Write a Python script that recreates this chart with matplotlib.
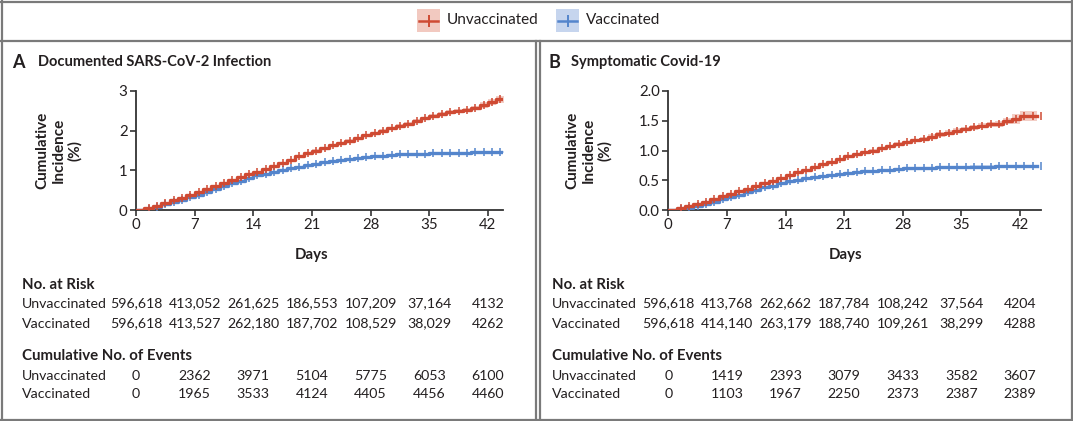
import matplotlib
matplotlib.use("Agg")
import matplotlib.pyplot as plt
from matplotlib.patches import Rectangle
from matplotlib.lines import Line2D
import matplotlib.transforms as mtransforms

plt.rcParams['font.family'] = ['Lato', 'DejaVu Sans']

# ---------------- data ----------------
days = list(range(45))
xticks = [0, 7, 14, 21, 28, 35, 42]

a_unvacc = [0.00, 0.05, 0.11, 0.17, 0.24, 0.31, 0.38, 0.45, 0.53, 0.60, 0.67, 0.75, 0.82, 0.90,
            0.97, 1.04, 1.12, 1.19, 1.27, 1.35, 1.43, 1.50, 1.57, 1.63, 1.69, 1.75, 1.82, 1.88,
            1.94, 2.00, 2.06, 2.12, 2.18, 2.25, 2.31, 2.37, 2.42, 2.46, 2.50, 2.53, 2.57, 2.64,
            2.72, 2.79, 2.80]
a_vacc = [0.00, 0.03, 0.08, 0.14, 0.20, 0.26, 0.32, 0.38, 0.46, 0.53, 0.60, 0.67, 0.74, 0.81,
          0.87, 0.92, 0.97, 1.01, 1.05, 1.09, 1.13, 1.17, 1.20, 1.23, 1.26, 1.29, 1.31, 1.33,
          1.35, 1.37, 1.39, 1.40, 1.41, 1.42, 1.42, 1.43, 1.43, 1.43, 1.44, 1.44, 1.45, 1.45,
          1.45, 1.45, 1.45]
b_unvacc = [0.00, 0.03, 0.06, 0.10, 0.14, 0.18, 0.23, 0.27, 0.32, 0.36, 0.40, 0.45, 0.49, 0.54,
            0.59, 0.64, 0.68, 0.73, 0.77, 0.81, 0.86, 0.90, 0.94, 0.97, 1.00, 1.04, 1.07, 1.11,
            1.14, 1.17, 1.20, 1.23, 1.27, 1.30, 1.33, 1.36, 1.39, 1.42, 1.44, 1.45, 1.49, 1.53,
            1.58, 1.58, 1.58]
b_vacc = [0.00, 0.01, 0.03, 0.06, 0.10, 0.14, 0.18, 0.22, 0.26, 0.30, 0.34, 0.38, 0.41, 0.45,
          0.48, 0.51, 0.53, 0.55, 0.57, 0.59, 0.61, 0.62, 0.64, 0.65, 0.66, 0.67, 0.68, 0.69,
          0.70, 0.71, 0.71, 0.71, 0.72, 0.72, 0.72, 0.72, 0.73, 0.73, 0.73, 0.74, 0.74, 0.74,
          0.74, 0.74, 0.74]

# confidence-band half widths (percentage points)
a_unvacc_hw = [0.0]*1 + [0.02]*20 + [0.03]*10 + [0.04]*6 + [0.05]*4 + [0.08]*4
a_vacc_hw = [0.0]*1 + [0.015]*20 + [0.02]*10 + [0.025]*14
b_unvacc_hw = [0.0]*1 + [0.015]*20 + [0.025]*10 + [0.04]*8 + [0.05]*2 + [0.09]*4
b_vacc_hw = [0.0]*1 + [0.012]*20 + [0.015]*10 + [0.02]*14

a_risk_unvacc = ["596,618", "413,052", "261,625", "186,553", "107,209", "37,164", "4132"]
a_risk_vacc = ["596,618", "413,527", "262,180", "187,702", "108,529", "38,029", "4262"]
a_ev_unvacc = ["0", "2362", "3971", "5104", "5775", "6053", "6100"]
a_ev_vacc = ["0", "1965", "3533", "4124", "4405", "4456", "4460"]

b_risk_unvacc = ["596,618", "413,768", "262,662", "187,784", "108,242", "37,564", "4204"]
b_risk_vacc = ["596,618", "414,140", "263,179", "188,740", "109,261", "38,299", "4288"]
b_ev_unvacc = ["0", "1419", "2393", "3079", "3433", "3582", "3607"]
b_ev_vacc = ["0", "1103", "1967", "2250", "2373", "2387", "2389"]

RED = '#cf4a33'
BLUE = '#5485cc'
RED_BAND = '#f2c9c0'
BLUE_BAND = '#c6d5ee'
BORDER = '#7a7a7a'
TXT = '#231f20'

W, H = 1073, 421
fig = plt.figure(figsize=(W/100, H/100), dpi=100)

def fx(x):
    return x / W

def fy(y):
    return 1 - y / H

# ---------------- borders ----------------
def hline(x0, x1, y):
    fig.add_artist(Line2D([fx(x0), fx(x1)], [fy(y), fy(y)], color=BORDER, lw=1.6))

def vline(x, y0, y1):
    fig.add_artist(Line2D([fx(x), fx(x)], [fy(y0), fy(y1)], color=BORDER, lw=1.6))

hline(1, 1072, 1.5)
vline(1.5, 1, 420)
vline(1071.5, 1, 420)
hline(1, 1072, 41)
hline(1, 1072, 419.5)
vline(535.5, 41, 420)
vline(539.5, 41, 420)

# ---------------- legend ----------------
def legend_item(x, label, lc, fc):
    fig.add_artist(Rectangle((fx(x), fy(32)), fx(23), 23/H, facecolor=fc, edgecolor='none'))
    fig.add_artist(Line2D([fx(x+2), fx(x+21)], [fy(20.5), fy(20.5)], color=lc, lw=1.8))
    fig.add_artist(Line2D([fx(x+11.5)], [fy(20.5)], color=lc, marker='|', markersize=9,
                          markeredgewidth=1.4, linestyle='none'))
    fig.text(fx(x+30), fy(20), label, fontsize=11, color=TXT, va='center', ha='left')

legend_item(417, "Unvaccinated", RED, RED_BAND)
legend_item(556, "Vaccinated", BLUE, BLUE_BAND)

# ---------------- panels ----------------
def panel(left_px, right_px, xmax, ymax, yticks, yfmt, letter, title, letter_x, title_x,
          ylab_x, days_x, table_x, unv, vac, unv_hw, vac_hw, ru, rv, eu, ev):
    bottom_px, top_px = 210, 91
    ax = fig.add_axes([fx(left_px), fy(bottom_px), (right_px-left_px)/W, (bottom_px-top_px)/H])
    lo_u = [v - h for v, h in zip(unv, unv_hw)]
    hi_u = [v + h for v, h in zip(unv, unv_hw)]
    lo_v = [v - h for v, h in zip(vac, vac_hw)]
    hi_v = [v + h for v, h in zip(vac, vac_hw)]
    ax.fill_between(days, lo_u, hi_u, step='post', color=RED_BAND, lw=0, alpha=0.9)
    ax.fill_between(days, lo_v, hi_v, step='post', color=BLUE_BAND, lw=0, alpha=0.9)
    ax.step(days, vac, where='post', color=BLUE, lw=2.4, zorder=3)
    ax.step(days, unv, where='post', color=RED, lw=2.4, zorder=4)
    mx = [d + 0.5 for d in days[1:]]
    ax.plot(mx, vac[1:], linestyle='none', marker='|', color=BLUE, markersize=6,
            markeredgewidth=1.1, zorder=3)
    ax.plot(mx, unv[1:], linestyle='none', marker='|', color=RED, markersize=6,
            markeredgewidth=1.1, zorder=4)
    ax.set_xlim(0, xmax)
    ax.set_ylim(0, ymax)
    ax.set_xticks(xticks)
    ax.set_yticks(yticks)
    ax.set_yticklabels([yfmt.format(t) for t in yticks])
    for s in ['top', 'right']:
        ax.spines[s].set_visible(False)
    for s in ['left', 'bottom']:
        ax.spines[s].set_linewidth(1.3)
        ax.spines[s].set_color('#333333')
    ax.tick_params(direction='out', length=4, width=1.2, color='#333333',
                   labelsize=10.8, labelcolor=TXT, pad=2)
    ax.patch.set_alpha(0)

    fig.text(fx(letter_x), fy(62), letter, fontsize=13, fontweight='bold', color=TXT,
             va='center', ha='left')
    fig.text(fx(title_x), fy(62), title, fontsize=10.5, fontweight='bold', color=TXT,
             va='center', ha='left')
    fig.text(fx(ylab_x), fy(150), "Cumulative\nIncidence\n(%)", fontsize=11,
             fontweight='bold', color=TXT, rotation=90, va='center', ha='center',
             multialignment='center', linespacing=1.2)
    fig.text(fx(days_x), fy(255), "Days", fontsize=10.8, fontweight='bold', color=TXT,
             va='center', ha='center')

    # table
    fig.text(fx(table_x), fy(285), "No. at Risk", fontsize=10.8, fontweight='bold',
             color=TXT, va='center', ha='left')
    fig.text(fx(table_x), fy(356), "Cumulative No. of Events", fontsize=10.8,
             fontweight='bold', color=TXT, va='center', ha='left')
    rows = [("Unvaccinated", ru, 303.5), ("Vaccinated", rv, 323.5),
            ("Unvaccinated", eu, 375.5), ("Vaccinated", ev, 394.5)]
    trans = mtransforms.blended_transform_factory(ax.transData, fig.transFigure)
    for label, vals, y in rows:
        fig.text(fx(table_x), fy(y), label, fontsize=10.2, color=TXT, va='center', ha='left')
        for d, v in zip(xticks, vals):
            ax.text(d, fy(y), v, transform=trans, fontsize=10.2, color=TXT,
                    va='center', ha='center', clip_on=False)
    return ax

panel(136, 503, 43.8, 3, [0, 1, 2, 3], "{:.0f}", "A", "Documented SARS-CoV-2 Infection",
      12, 38, 59, 312, 22, a_unvacc, a_vacc, a_unvacc_hw, a_vacc_hw,
      a_risk_unvacc, a_risk_vacc, a_ev_unvacc, a_ev_vacc)
panel(668.3, 1041, 44.5, 2, [0.0, 0.5, 1.0, 1.5, 2.0], "{:.1f}", "B", "Symptomatic Covid-19",
      548, 571, 589, 846, 552, b_unvacc, b_vacc, b_unvacc_hw, b_vacc_hw,
      b_risk_unvacc, b_risk_vacc, b_ev_unvacc, b_ev_vacc)

fig.savefig("out.png", dpi=100)
